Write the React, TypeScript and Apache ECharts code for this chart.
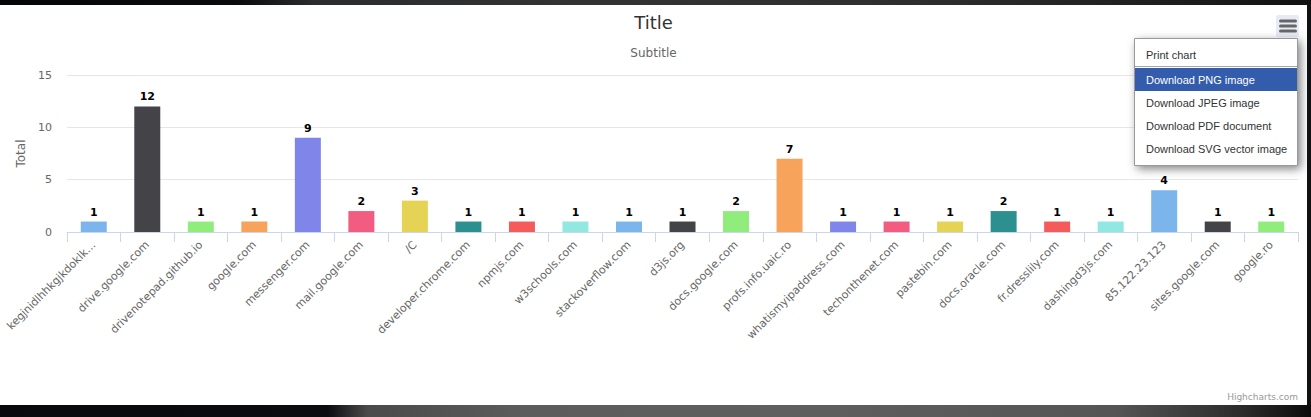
import React, { useEffect, useRef } from 'react';
import * as echarts from 'echarts';

const categories = [
  'kegjnidlhhkgjkdoklk…',
  'drive.google.com',
  'drivenotepad.github.io',
  'google.com',
  'messenger.com',
  'mail.google.com',
  '/C',
  'developer.chrome.com',
  'npmjs.com',
  'w3schools.com',
  'stackoverflow.com',
  'd3js.org',
  'docs.google.com',
  'profs.info.uaic.ro',
  'whatismyipaddress.com',
  'techonthenet.com',
  'pastebin.com',
  'docs.oracle.com',
  'fr.dresslily.com',
  'dashingd3js.com',
  '85.122.23.123',
  'sites.google.com',
  'google.ro',
];

const totals = [1, 12, 1, 1, 9, 2, 3, 1, 1, 1, 1, 1, 2, 7, 1, 1, 1, 2, 1, 1, 4, 1, 1];

const palette = [
  '#7cb5ec', '#434348', '#90ed7d', '#f7a35c', '#8085e9',
  '#f15c80', '#e4d354', '#2b908f', '#f45b5b', '#91e8e1',
];

const titleText = 'Title';
const subtitleText = 'Subtitle';
const yAxisTitle = 'Total';
const creditsText = 'Highcharts.com';
const menuItems = [
  'Print chart',
  'Download PNG image',
  'Download JPEG image',
  'Download PDF document',
  'Download SVG vector image',
];
const highlightedItem = 1;

const FONT = '"DejaVu Sans", sans-serif';
const MENU_FONT = '"Liberation Sans", Arial, sans-serif';

function buildMenu(): any[] {
  const left = 1134;
  const top = 33;
  const width = 163;
  const itemH = 23;
  const els: any[] = [];
  els.push({
    type: 'rect',
    z: 100,
    shape: { x: left + 0.5, y: top + 0.5, width, height: 127 },
    style: {
      fill: '#ffffff',
      stroke: '#999999',
      lineWidth: 1,
      shadowBlur: 10,
      shadowOffsetX: 3,
      shadowOffsetY: 3,
      shadowColor: 'rgba(100,100,100,0.8)',
    },
  });
  let y = top + 5;
  menuItems.forEach((label, i) => {
    if (i === 1) {
      els.push({
        type: 'line',
        z: 101,
        shape: { x1: left + 1, y1: y + 0.5, x2: left + width, y2: y + 0.5 },
        style: { stroke: '#a6a6a6', lineWidth: 1 },
      });
      y += 2;
    }
    if (i === highlightedItem) {
      els.push({
        type: 'rect',
        z: 101,
        shape: { x: left + 1, y, width: width - 1, height: itemH },
        style: { fill: '#335cad' },
      });
    }
    els.push({
      type: 'text',
      z: 102,
      x: left + 12,
      y: y + itemH / 2,
      style: {
        text: label,
        fill: i === highlightedItem ? '#ffffff' : '#333333',
        font: `11px ${MENU_FONT}`,
        verticalAlign: 'middle',
        align: 'left',
      },
    });
    y += itemH;
  });
  return els;
}

function buildButton(): any[] {
  const els: any[] = [
    {
      type: 'rect',
      z: 100,
      shape: { x: 1276, y: 10, width: 23, height: 22, r: 2 },
      style: { fill: '#e6ebf5' },
    },
  ];
  [16, 21, 26].forEach((yy) => {
    els.push({
      type: 'line',
      z: 101,
      shape: { x1: 1280.5, y1: yy, x2: 1295.5, y2: yy },
      style: { stroke: '#666666', lineWidth: 3, lineCap: 'round' },
    });
  });
  return els;
}

export default function App() {
  const ref = useRef<HTMLDivElement>(null);

  useEffect(() => {
    document.body.style.margin = '0';
    const chart = echarts.init(ref.current!, null, { renderer: 'svg' });
    const option: any = {
      animation: false,
      textStyle: { fontFamily: FONT },
      title: [
        {
          text: titleText,
          left: 'center',
          top: 3,
          textStyle: { fontSize: 18, fontWeight: 'normal', color: '#333333', fontFamily: FONT },
        },
        {
          text: subtitleText,
          left: 'center',
          top: 37,
          textStyle: { fontSize: 12, fontWeight: 'normal', color: '#666666', fontFamily: FONT },
        },
      ],
      grid: { left: 67, right: 9, top: 70, height: 157, containLabel: false },
      xAxis: {
        type: 'category',
        data: categories,
        boundaryGap: true,
        axisLine: { show: true, lineStyle: { color: '#ccd6eb', width: 1 } },
        axisTick: { show: true, length: 10, interval: 0, lineStyle: { color: '#ccd6eb' } },
        axisLabel: {
          interval: 0,
          rotate: 45,
          margin: 11,
          color: '#666666',
          fontSize: 11,
          fontFamily: FONT,
        },
        splitLine: { show: false },
      },
      yAxis: {
        type: 'value',
        min: 0,
        max: 15,
        interval: 5,
        name: yAxisTitle,
        nameLocation: 'middle',
        nameGap: 39,
        nameTextStyle: { color: '#666666', fontSize: 12, fontFamily: FONT },
        axisLine: { show: false },
        axisTick: { show: false },
        axisLabel: { color: '#666666', fontSize: 11, margin: 15, fontFamily: FONT },
        splitLine: { show: true, lineStyle: { color: '#e6e6e6', width: 1 } },
      },
      series: [
        {
          type: 'bar',
          data: totals,
          barWidth: 26,
          itemStyle: {
            color: (p: any) => palette[p.dataIndex % palette.length],
          },
          label: {
            show: true,
            position: 'top',
            distance: 4,
            color: '#000000',
            fontWeight: 'bold',
            fontSize: 11,
            fontFamily: FONT,
            textBorderColor: '#ffffff',
            textBorderWidth: 2,
          },
        },
      ],
      graphic: [
        {
          type: 'text',
          z: 100,
          x: 1298,
          y: 392,
          style: {
            text: creditsText,
            fill: '#999999',
            font: `9px ${FONT}`,
            align: 'right',
            verticalAlign: 'middle',
          },
        },
        ...buildButton(),
        ...buildMenu(),
      ],
    };
    chart.setOption(option);
    return () => chart.dispose();
  }, []);

  return (
    <div
      style={{
        position: 'relative',
        width: 1311,
        height: 417,
        overflow: 'hidden',
        background: '#101113',
      }}
    >
      <div
        style={{
          position: 'absolute',
          left: 0,
          top: 0,
          width: 1311,
          height: 5,
          background:
            'linear-gradient(90deg, #050608 0%, #0a0b0d 18%, #2a2c2e 24%, #333333 45%, #2e2e2e 70%, #1d1d1d 90%, #111111 100%)',
        }}
      />
      <div
        style={{
          position: 'absolute',
          left: 0,
          top: 405,
          width: 1311,
          height: 12,
          background:
            'linear-gradient(90deg, #07090c 0%, #0a0c10 25%, #4a4a4a 28%, #5c5c5c 40%, #5f5f5f 60%, #555555 85%, #2a2a2a 95%, #0c0c0c 100%)',
        }}
      />
      <div
        ref={ref}
        style={{
          position: 'absolute',
          left: 0,
          top: 5,
          width: 1307,
          height: 400,
          background: '#ffffff',
        }}
      />
    </div>
  );
}
